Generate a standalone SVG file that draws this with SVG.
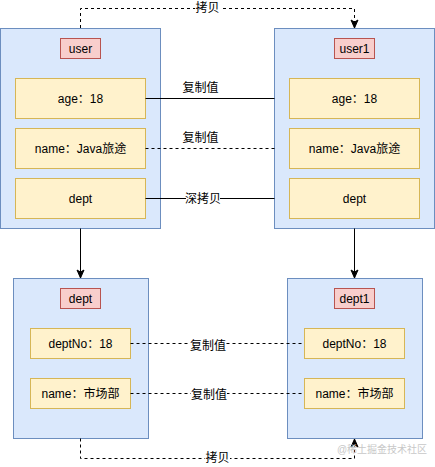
<svg xmlns="http://www.w3.org/2000/svg" width="435" height="467" viewBox="0 0 435 467">
<style>
.obj{fill:#dae8fc;stroke:#6c8ebf;stroke-width:1}
.fld{fill:#fff2cc;stroke:#d6b656;stroke-width:1}
.ttl{fill:#f8cecc;stroke:#b85450;stroke-width:1}
text{font-family:"Liberation Sans","Noto Sans CJK SC",sans-serif;font-size:12px;fill:#000;text-anchor:middle;dominant-baseline:central}
.e{fill:none;stroke:#000;stroke-width:1}
.d{stroke-dasharray:3 3}
.lb{fill:#fff;stroke:none}
.wm{font-size:10px;fill:#c8c8c8}
</style>
<defs>
<marker id="arr" markerWidth="10" markerHeight="10" refX="9" refY="5" orient="auto" markerUnits="userSpaceOnUse">
<path d="M1,1.5 L9,5 L1,8.5 L3,5 Z" fill="#000" stroke="#000" stroke-width="1"/>
</marker>
</defs>
<rect width="435" height="467" fill="#fff"/>
<g id="user">
<rect class="obj" x="0.5" y="28.5" width="160" height="200"/>
<rect class="ttl" x="60.5" y="38.5" width="40" height="20"/><text x="80.5" y="48.5">user</text>
<rect class="fld" x="15.5" y="78.5" width="130" height="40"/><text x="80.5" y="98.5">age：18</text>
<rect class="fld" x="15.5" y="128.5" width="130" height="40"/><text x="80.5" y="148.5">name：Java旅途</text>
<rect class="fld" x="15.5" y="178.5" width="130" height="40"/><text x="80.5" y="198.5">dept</text>
</g>
<g id="user1">
<rect class="obj" x="274.5" y="28.5" width="160" height="200"/>
<rect class="ttl" x="334.5" y="38.5" width="40" height="20"/><text x="354.5" y="48.5">user1</text>
<rect class="fld" x="289.5" y="78.5" width="130" height="40"/><text x="354.5" y="98.5">age：18</text>
<rect class="fld" x="289.5" y="128.5" width="130" height="40"/><text x="354.5" y="148.5">name：Java旅途</text>
<rect class="fld" x="289.5" y="178.5" width="130" height="40"/><text x="354.5" y="198.5">dept</text>
</g>
<g id="dept">
<rect class="obj" x="13.5" y="278.5" width="135" height="160"/>
<rect class="ttl" x="60.5" y="288.5" width="40" height="20"/><text x="80.5" y="298.5">dept</text>
<rect class="fld" x="30.5" y="328.5" width="100" height="30"/><text x="80.5" y="343.5">deptNo：18</text>
<rect class="fld" x="30.5" y="378.5" width="100" height="30"/><text x="80.5" y="393.5">name：市场部</text>
</g>
<g id="dept1">
<rect class="obj" x="287.5" y="278.5" width="135" height="160"/>
<rect class="ttl" x="334.5" y="288.5" width="40" height="20"/><text x="354.5" y="298.5">dept1</text>
<rect class="fld" x="304.5" y="328.5" width="100" height="30"/><text x="354.5" y="343.5">deptNo：18</text>
<rect class="fld" x="304.5" y="378.5" width="100" height="30"/><text x="354.5" y="393.5">name：市场部</text>
</g>
<g id="connectors">
<path class="e d" d="M80.5,28 V8.5 H354.5 V28" marker-end="url(#arr)"/>
<rect class="lb" x="195" y="1" width="25" height="14"/><text x="207.5" y="7.5">拷贝</text>
<path class="e" d="M145.5,98.5 H274.5"/>
<text x="200.5" y="88">复制值</text>
<path class="e d" d="M145.5,148.5 H274.5"/>
<text x="200.5" y="138">复制值</text>
<path class="e" d="M145.5,198.5 H274.5"/>
<rect class="lb" x="186" y="191" width="34" height="15"/><text x="203" y="198.5">深拷贝</text>
<path class="e" d="M80.5,228.5 V278" marker-end="url(#arr)"/>
<path class="e" d="M354.5,228.5 V278" marker-end="url(#arr)"/>
<path class="e d" d="M130.5,343.5 H304.5"/>
<rect class="lb" x="190" y="339" width="36" height="14"/><text x="208" y="346">复制值</text>
<path class="e d" d="M130.5,393.5 H304.5"/>
<rect class="lb" x="191" y="387" width="36" height="14"/><text x="209" y="394.5">复制值</text>
<path class="e d" d="M80.5,438.5 V458.5 H354.5 V439" marker-end="url(#arr)"/>
<rect class="lb" x="205" y="451" width="25" height="14"/><text x="217.5" y="458">拷贝</text>
</g>
<text class="wm" x="382" y="449">@稀土掘金技术社区</text>
</svg>
